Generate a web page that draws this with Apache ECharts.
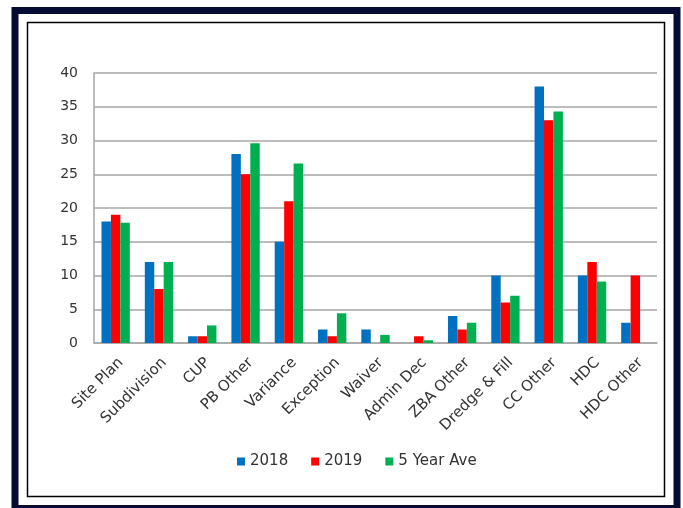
<!DOCTYPE html>
<html>
<head>
<meta charset="utf-8">
<script src="https://cdn.jsdelivr.net/npm/echarts@6/dist/echarts.min.js"></script>
<style>
html,body{margin:0;padding:0;background:#fff;}
#chart{width:683px;height:508px;}
</style>
</head>
<body>
<div id="chart"></div>
<script>
const categories = ['Site Plan','Subdivision','CUP','PB Other','Variance','Exception','Waiver','Admin Dec','ZBA Other','Dredge & Fill','CC Other','HDC','HDC Other'];
const seriesNames = ['2018','2019','5 Year Ave'];
const values2018 = [18,12,1,28,15,2,2,0,4,10,38,10,3];
const values2019 = [19,8,1,25,21,1,0,1,2,6,33,12,10];
const valuesAve = [17.8,12,2.6,29.6,26.6,4.4,1.2,0.4,3,7,34.3,9.1,0];
const yTicks = {min:0, max:40, interval:5};

const colors = ['#0070C0','#FF0000','#00B050'];
const font = 'DejaVu Sans';

const chart = echarts.init(document.getElementById('chart'), null, {renderer:'canvas'});
const mk = (name, data, i) => ({
  name, type:'bar', data,
  barGap:'0%', barCategoryGap:'34.6%',
  itemStyle:{color:colors[i]},
  emphasis:{disabled:true}
});
chart.setOption({
  backgroundColor:'#ffffff',
  animation:false,
  grid:{left:94, right:26, top:73, bottom:165, containLabel:false},
  legend:{
    data:seriesNames, left:237, top:454, padding:0,
    itemWidth:8, itemHeight:8, itemGap:23, icon:'rect',
    selectedMode:false,
    textStyle:{fontFamily:font, fontSize:15, color:'#333'}
  },
  xAxis:{
    type:'category', data:categories,
    axisLine:{show:true, lineStyle:{color:'#a6a6a6', width:1.5}},
    axisTick:{show:false},
    axisLabel:{interval:0, rotate:45, margin:12, verticalAlign:'top',
      fontFamily:font, fontSize:15, color:'#333'}
  },
  yAxis:{
    type:'value', min:yTicks.min, max:yTicks.max, interval:yTicks.interval,
    axisLine:{show:true, lineStyle:{color:'#a6a6a6', width:1.5}},
    axisTick:{show:false},
    axisLabel:{margin:16, fontFamily:font, fontSize:14, color:'#333'},
    splitLine:{show:true, lineStyle:{color:'#a6a6a6', width:1.5}}
  },
  series:[mk(seriesNames[0], values2018, 0), mk(seriesNames[1], values2019, 1), mk(seriesNames[2], valuesAve, 2)],
  graphic:[
    {type:'rect', z:100, silent:true, shape:{x:15, y:10.5, width:662, height:498},
     style:{fill:null, stroke:'#060b33', lineWidth:7}},
    {type:'rect', z:100, silent:true, shape:{x:27.5, y:22.5, width:637, height:474},
     style:{fill:null, stroke:'#000', lineWidth:1.5}}
  ]
});
</script>
</body>
</html>
